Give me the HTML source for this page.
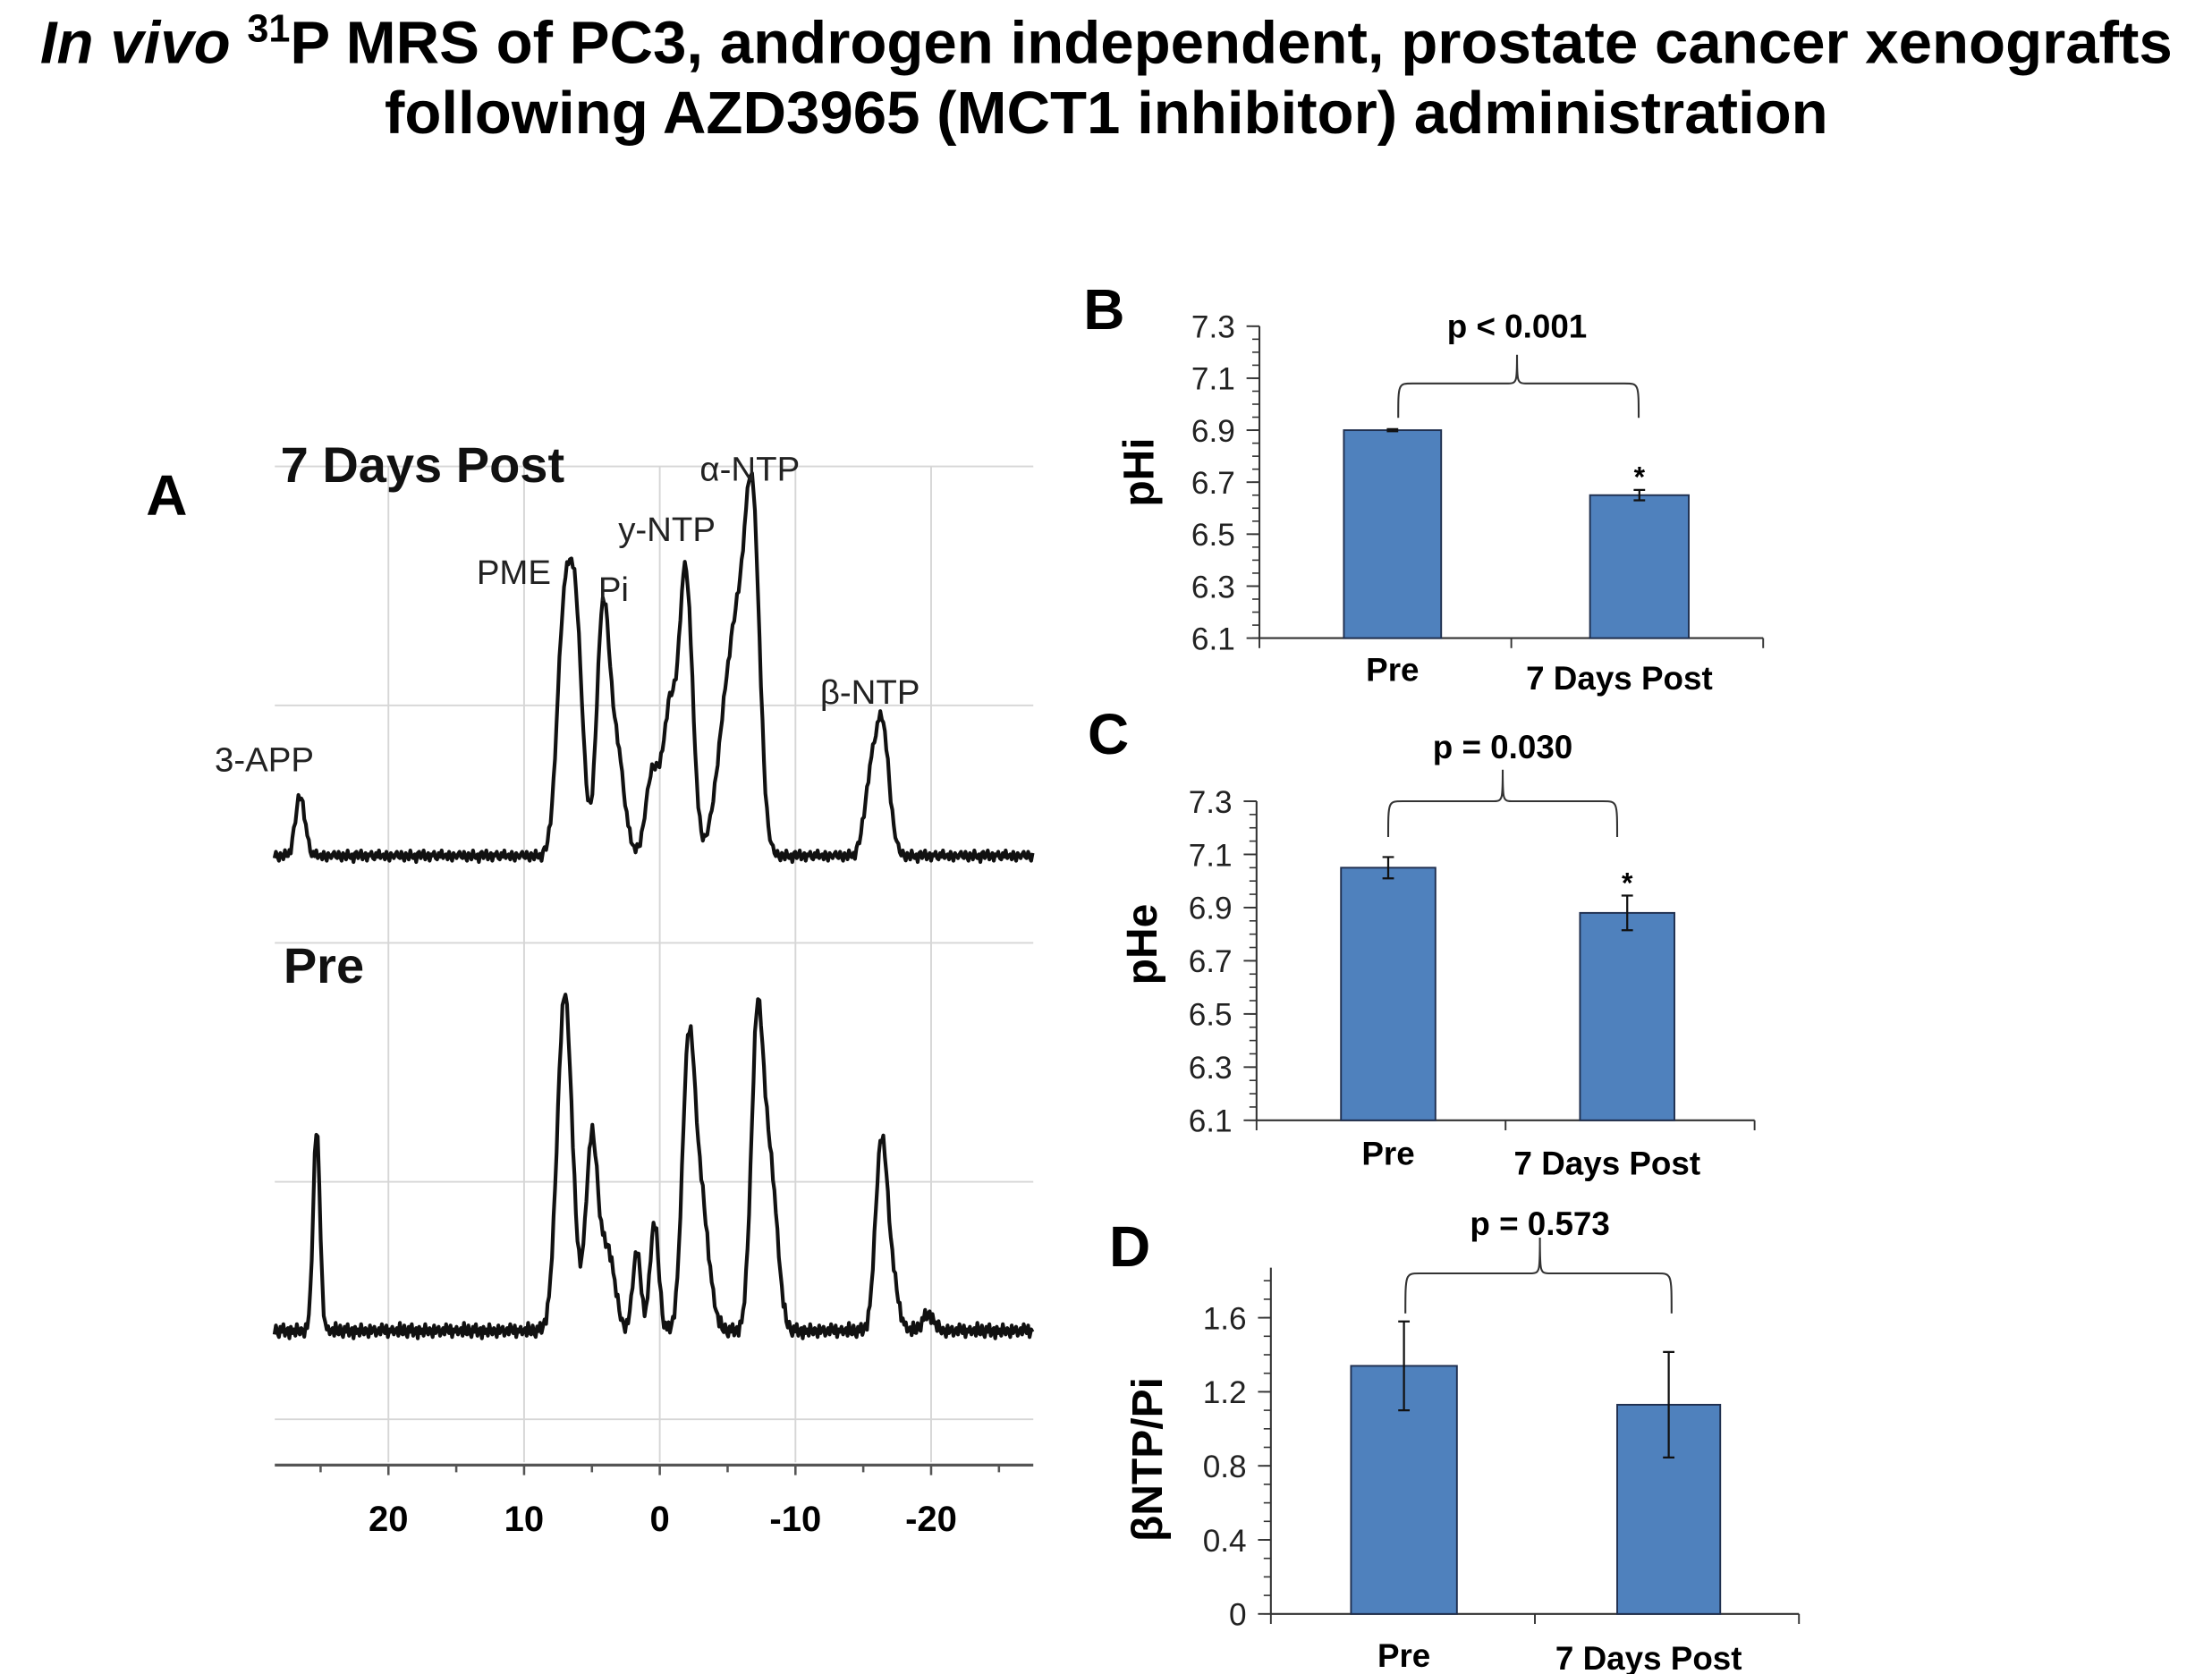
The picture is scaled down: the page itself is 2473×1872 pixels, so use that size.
<!DOCTYPE html>
<html><head><meta charset="utf-8"><style>
html,body{margin:0;padding:0;background:#fff;}
svg{display:block;font-family:"Liberation Sans",Arial,sans-serif;}
</style></head><body>
<svg id="fig" width="2473" height="1872" viewBox="0 0 1545.6 1170" xmlns="http://www.w3.org/2000/svg">
<text x="773" y="44" text-anchor="middle" font-size="42" font-weight="bold"><tspan font-style="italic">In vivo</tspan> <tspan font-size="27" dy="-15">31</tspan><tspan dy="15">P MRS of PC3, androgen independent, prostate cancer xenografts</tspan></text>
<text x="773" y="93" text-anchor="middle" font-size="42" font-weight="bold">following AZD3965 (MCT1 inhibitor) administration</text>

<g id="panelA"></g>
<g id="panelB"></g>
<g id="panelC"></g>
<g id="panelD"></g>
</svg>
<script>
const NS="http://www.w3.org/2000/svg";
// ---- Panel A data ----
const ppmTicks=[20,10,0,-10,-20];
const postPeaks=[[26.5,42,0.35],[7.1,150,0.5],[6.2,160,0.5],[4.2,165,0.45],[3.2,75,0.55],[0.5,60,0.5],[-0.7,95,0.45],[-1.9,200,0.5],[-4.9,85,0.75],[-6.1,140,0.75],[-6.9,175,0.5],[-15.5,45,0.45],[-16.4,90,0.5]];
const prePeaks=[[25.3,140,0.25],[7.0,235,0.55],[5.0,135,0.45],[3.8,55,0.5],[1.7,55,0.3],[0.4,75,0.32],[-2.1,180,0.45],[-3.0,90,0.6],[-7.2,215,0.45],[-8.2,105,0.5],[-16.3,120,0.42],[-17.0,40,0.5],[-19.8,12,0.4]];
const noisePost=[2,-3,1,4,-2,0,3,-4,1,2,-1,5,-2,-3,2,0,-4,3,1,-2,4,-1,0,-3,2,3,-2,1,-4,2,0,-1,3,-3,1,4,-2,0,2,-1,-3,1];
const noisePre=[3,-4,2,5,-3,1,-5,4,0,-2,6,-3,2,-1,4,-5,1,3,-2,0,5,-4,2,-1,-3,4,1,-2,3,-5,0,2,-4,5,-1,1,-3,3,0,-2,4,-6,2];

// ---- Bar chart data ----
const groups=["Pre","7 Days Post"];
const phiVals=[6.90,6.65];
const phiErr=[0.004,0.02];
const pheVals=[7.05,6.88];
const pheErr=[0.04,0.065];
const ntpVals=[1.34,1.13];
const ntpErr=[0.24,0.285];
const phTicks=["7.3","7.1","6.9","6.7","6.5","6.3","6.1"];
const ntpTicks=["1.6","1.2","0.8","0.4","0"];

function el(parent,tag,attrs,text){const e=document.createElementNS(NS,tag);for(const k in attrs)e.setAttribute(k,attrs[k]);if(text!==undefined)e.textContent=text;parent.appendChild(e);return e;}

// ---- Panel A ----
(function(){
const g=document.getElementById('panelA');
const x0=192,x1=722;
const xp=p=>461-p*9.48;
const lbl=el(g,'text',{x:102,y:360,'font-size':40,'font-weight':'bold'},'A');

[326,493,659,826,992].forEach(y=>{const l=el(g,'line',{x1:x0,x2:x1,y1:y,y2:y,stroke:'#d6d6d6','stroke-width':1.2});
});
ppmTicks.forEach(p=>{const l=el(g,'line',{x1:xp(p),x2:xp(p),y1:326,y2:1022,stroke:'#d6d6d6','stroke-width':1.2});
});
const ax=el(g,'line',{x1:x0,x2:x1,y1:1024,y2:1024,stroke:'#555','stroke-width':2});

for(let p=25;p>=-25;p-=5){const t=el(g,'line',{x1:xp(p),x2:xp(p),y1:1024,y2:p%10===0?1031:1029,stroke:'#555','stroke-width':1.6});
}
ppmTicks.forEach(p=>{const t=el(g,'text',{x:xp(p),y:1070,'text-anchor':'middle','font-size':25,'font-weight':'bold'},String(p));
});
function spec(peaks,noise,base,name){
 let d='';let i=0;
 for(let p=28.4;p>=-27.5;p-=0.11,i++){
  let y=0;peaks.forEach(([c,h,s])=>{y+=h*Math.exp(-0.5*((p-c)/s)**2);});
  const yy=base-y+noise[i%noise.length]*0.9;
  d+=(i?'L':'M')+xp(p).toFixed(1)+','+yy.toFixed(1);
 }
 const path=el(g,'path',{d:d,fill:'none',stroke:'#111','stroke-width':2.6,'stroke-linejoin':'round'});
 
}
spec(postPeaks,noisePost,598,'post-spectrum-line');
spec(prePeaks,noisePre,930,'pre-spectrum-line');
const labs=[["7 Days Post",196,337,35,'bold','post-spectrum-title'],["Pre",198,687,35,'bold','pre-spectrum-title'],["3-APP",150,539,24,'normal','peak-label-3app'],["PME",333,408,24,'normal','peak-label-pme'],["Pi",418,420,24,'normal','peak-label-pi'],["y-NTP",432,378,24,'normal','peak-label-gamma-ntp'],["α-NTP",489,336,24,'normal','peak-label-alpha-ntp'],["β-NTP",573,492,24,'normal','peak-label-beta-ntp']];
labs.forEach(([t,x,y,s,w,n])=>{const e=el(g,'text',{x:x,y:y,'font-size':s,'font-weight':w,fill:w==='bold'?'#111':'#222'},t);
});
})();

// ---- Bar charts ----
function barChart(gid,cfg){
 const g=document.getElementById(gid);
 const {letter,lx,ly,axX,axR,yTop,yBot,vTop,vBot,ticks,minorStep,vals,errs,bars,brace,ptext,pY,ylab,ylx,yly,labY,star}=cfg;
 const ys=v=>yBot-(v-vBot)/(vTop-vBot)*(yBot-yTop);
 const L=el(g,'text',{x:lx,y:ly,'font-size':40,'font-weight':'bold'},letter);
 
 const ya=el(g,'line',{x1:axX,x2:axX,y1:cfg.axTop,y2:yBot,stroke:'#333','stroke-width':1.3});
 
 const xa=el(g,'line',{x1:axX,x2:axR,y1:yBot,y2:yBot,stroke:'#333','stroke-width':1.3});
 
 for(let v=vBot;v<=vTop+1e-6+(cfg.extra||0);v+=minorStep){const y=ys(v);if(y<cfg.axTop-0.5)break;
  const t=el(g,'line',{x1:axX-5,x2:axX,y1:y,y2:y,stroke:'#333','stroke-width':1});
  }
 ticks.forEach(t=>{const v=parseFloat(t);const y=ys(v);
  const tl=el(g,'line',{x1:axX-9,x2:axX,y1:y,y2:y,stroke:'#333','stroke-width':1.2});
  
  const tx=el(g,'text',{x:axX-17,y:y+8,'text-anchor':'end','font-size':22,fill:'#222'},t);
  });
 [axX,(axX+axR)/2,axR].forEach(x=>{const t=el(g,'line',{x1:x,x2:x,y1:yBot,y2:yBot+7,stroke:'#333','stroke-width':1.2});
  });
 vals.forEach((v,i)=>{const [bx,bw]=bars[i];
  const r=el(g,'rect',{x:bx,y:ys(v),width:bw,height:yBot-ys(v),fill:'#4f81bd',stroke:'#1f2f4f','stroke-width':1.2});
  
  const cx=bx+bw/2,e1=ys(v+errs[i]),e2=ys(v-errs[i]);
  const eb=el(g,'path',{d:`M${cx},${e1}L${cx},${e2}M${cx-4},${e1}L${cx+4},${e1}M${cx-4},${e2}L${cx+4},${e2}`,stroke:'#111','stroke-width':1.4,fill:'none'});
  
  const lab=el(g,'text',{x:i?cx-14:cx,y:labY[i],'text-anchor':'middle','font-size':23,'font-weight':'bold'},groups[i]);
  
  if(star&&i===1){const s=el(g,'text',{x:cx,y:e1-2,'text-anchor':'middle','font-size':20,'font-weight':'bold'},'*');
   }
 });
 const [bx1,bx2,bTop,bLow,bcx,bPeak]=brace;
 const br=el(g,'path',{d:`M${bx1},${bLow}C${bx1},${bTop} ${bx1},${bTop} ${bx1+10},${bTop}L${bcx-6},${bTop}C${bcx},${bTop} ${bcx},${bTop-2} ${bcx},${bPeak}C${bcx},${bTop-2} ${bcx},${bTop} ${bcx+6},${bTop}L${bx2-10},${bTop}C${bx2},${bTop} ${bx2},${bTop} ${bx2},${bLow}`,fill:'none',stroke:'#333','stroke-width':1.3});
 
 const pt=el(g,'text',{x:bcx,y:pY,'text-anchor':'middle','font-size':23,'font-weight':'bold'},ptext);
 
 const yl=el(g,'text',{x:ylx,y:yly,'text-anchor':'middle','font-size':30,'font-weight':'bold',transform:`rotate(-90 ${ylx} ${yly})`},ylab);
 
}
barChart('panelB',{letter:'B',lx:757,ly:230,axX:880,axR:1232,yTop:228,yBot:446,axTop:228,vTop:7.3,vBot:6.1,ticks:phTicks,minorStep:0.05,
 vals:phiVals,errs:phiErr,bars:[[939,68],[1111,69]],brace:[977,1145,268,292,1060,248],ptext:'p < 0.001',pY:236,ylab:'pHi',ylx:806,yly:330,labY:[476,482],star:true});
barChart('panelC',{letter:'C',lx:760,ly:527,axX:878,axR:1226,yTop:560,yBot:783,axTop:560,vTop:7.3,vBot:6.1,ticks:phTicks,minorStep:0.05,
 vals:pheVals,errs:pheErr,bars:[[937,66],[1104,66]],brace:[970,1130,560,585,1050,538],ptext:'p = 0.030',pY:530,ylab:'pHe',ylx:808,yly:660,labY:[814,821],star:true});
barChart('panelD',{letter:'D',lx:775,ly:885,axX:888,axR:1257,yTop:921,yBot:1128,axTop:886,vTop:1.6,vBot:0,extra:0.3,ticks:ntpTicks,minorStep:0.1,
 vals:ntpVals,errs:ntpErr,bars:[[944,74],[1130,72]],brace:[982,1168,890,918,1076,865],ptext:'p = 0.573',pY:863,ylab:'βNTP/Pi',ylx:812,yly:1020,labY:[1165,1167],star:false});
</script>
</body></html>
